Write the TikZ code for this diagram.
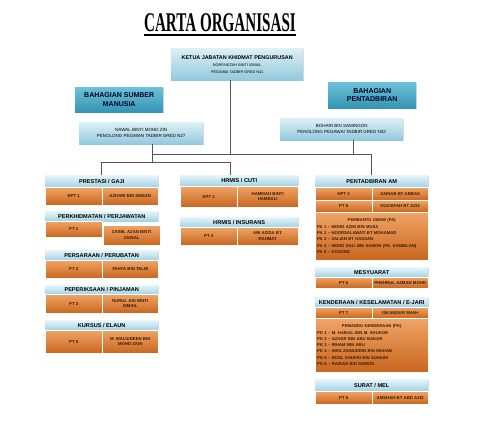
\documentclass[tikz,border=0pt]{standalone}
\usepackage{fontspec}
\setmainfont{Liberation Sans}
\newfontfamily\titlefont{Liberation Serif}[FakeStretch=0.56]
\usetikzlibrary{shadows}

\definecolor{topA}{HTML}{DDF0F6}
\definecolor{topB}{HTML}{92C9DC}
\definecolor{bahA}{HTML}{6CC2D8}
\definecolor{bahB}{HTML}{3494B3}
\definecolor{hdrA}{HTML}{E6F5FA}
\definecolor{hdrB}{HTML}{A2D3E4}
\definecolor{orgA}{HTML}{F0A466}
\definecolor{orgB}{HTML}{C9661F}
\definecolor{orgText}{HTML}{3B1C05}
\definecolor{linkGrey}{HTML}{555555}

\tikzset{
  shade/.style={drop shadow={shadow xshift=0.8pt,shadow yshift=-0.8pt,opacity=0.3}},
  base/.style={inner sep=0.5pt, anchor=north west, align=center, shade},
  topbox/.style={base, top color=topA, bottom color=topB,
    font=\fontsize{3.8}{7}\selectfont},
  bahbox/.style={base, top color=bahA, bottom color=bahB,
    font=\fontsize{7}{8.5}\selectfont\bfseries, text=black!85!blue},
  hdr/.style={base, top color=hdrA, bottom color=hdrB,
    font=\fontsize{5.6}{6.5}\selectfont\bfseries},
  cell/.style={base, top color=orgA, bottom color=orgB, draw=white,
    line width=0.4pt, text=orgText, font=\fontsize{4.3}{5.5}\selectfont\bfseries},
  listcell/.style={cell, align=left, text width=109pt,
    font=\fontsize{4.2}{6.3}\selectfont\bfseries},
  link/.style={draw=linkGrey, line width=0.6pt}
}

\begin{document}
\begin{tikzpicture}[x=1pt,y=-1pt]
  \useasboundingbox (0,0) rectangle (480,427);
  % title
  \node[inner sep=0pt, anchor=base, font=\titlefont\bfseries\fontsize{27}{27}\selectfont]
    (title) at (220,32) {CARTA ORGANISASI};
  \draw[line width=1.8pt] ([yshift=-2.8pt]title.base west) -- ([yshift=-2.8pt]title.base east);
  % head of department
  \node[topbox, minimum width=132pt, minimum height=32pt] (ketua) at (171,48)
    {{\fontsize{5.4}{7}\selectfont\bfseries KETUA JABATAN KHIDMAT PENGURUSAN}\\
     NORFAIEZAH BINTI ISMAIL\\ PEGAWAI TADBIR GRED N41};
  % the two divisions
  \node[bahbox, minimum width=88pt, minimum height=25pt] (bsm) at (75,87)
    {BAHAGIAN SUMBER\\MANUSIA};
  \node[bahbox, minimum width=88pt, minimum height=26pt] (bpt) at (328,82)
    {BAHAGIAN\\PENTADBIRAN};
  \node[topbox, minimum width=124pt, minimum height=22pt, font=\fontsize{4.5}{6.5}\selectfont]
    (nawal) at (79,122) {NAWAL BINTI MOHD ZIN\\PENOLONG PEGAWAI TADBIR GRED N27};
  \node[topbox, minimum width=123pt, minimum height=22pt, font=\fontsize{4.5}{6.5}\selectfont]
    (bohari) at (280,118) {BOHARI BIN SAMINGON\\PENOLONG PEGAWAI TADBIR GRED N32};

  % left column
  \node[hdr, minimum width=113pt, minimum height=12pt] (prestasi) at (45,175) {PRESTASI / GAJI};
  \node[cell, minimum width=57pt, minimum height=18pt] (prestasiL) at (45,187) {KPT 1};
  \node[cell, minimum width=56pt, minimum height=18pt] (prestasiR) at (102,187) {AZHARI BIN SEMAN};
  \node[hdr, minimum width=113pt, minimum height=10pt] (khidmat) at (45,211) {PERKHIDMATAN / PERJAWATAN};
  \node[cell, minimum width=57pt, minimum height=16pt] (khidmatL) at (45,221) {PT 1};
  \node[cell, minimum width=57pt, minimum height=20pt] (khidmatR) at (103,225) {ZAINIL AZAN BINTI\\ZAINAL};
  \node[hdr, minimum width=113pt, minimum height=10pt] (bersara) at (45,250) {PERSARAAN / PERUBATAN};
  \node[cell, minimum width=57pt, minimum height=18pt] (bersaraL) at (45,260) {PT 2};
  \node[cell, minimum width=56pt, minimum height=18pt] (bersaraR) at (102,260) {YAHYA BIN TALIB};
  \node[hdr, minimum width=113pt, minimum height=9pt] (periksa) at (45,285) {PEPERIKSAAN / PINJAMAN};
  \node[cell, minimum width=57pt, minimum height=19pt] (periksaL) at (45,294) {PT 3};
  \node[cell, minimum width=56pt, minimum height=19pt] (periksaR) at (102,294) {NURUL AIN BINTI\\ISMAIL};
  \node[hdr, minimum width=113pt, minimum height=10pt] (kursus) at (45,320) {KURSUS / ELAUN};
  \node[cell, minimum width=57pt, minimum height=23pt] (kursusL) at (45,330) {PT 5};
  \node[cell, minimum width=56pt, minimum height=23pt] (kursusR) at (102,330) {M. WALIUDEEN BIN\\MOHD ZAIN};

  % middle column
  \node[hdr, minimum width=118pt, minimum height=11pt] (cuti) at (180,175) {HRMIS / CUTI};
  \node[cell, minimum width=57pt, minimum height=21pt] (cutiL) at (180,186) {KPT 2};
  \node[cell, minimum width=61pt, minimum height=21pt] (cutiR) at (237,186) {HAMMAH BINTI\\HAMBALI};
  \node[hdr, minimum width=118pt, minimum height=10pt] (insurans) at (180,217) {HRMIS / INSURANS};
  \node[cell, minimum width=57pt, minimum height=18pt] (insuransL) at (180,227) {PT 4};
  \node[cell, minimum width=61pt, minimum height=18pt] (insuransR) at (237,227) {ANI AZIDA BT.\\RAHMAT};

  % right column
  \node[hdr, minimum width=113pt, minimum height=12pt] (tadbir) at (315,175) {PENTADBIRAN AM};
  \node[cell, minimum width=57pt, minimum height=13pt] (tadbirL) at (315,187) {KPT 3};
  \node[cell, minimum width=56pt, minimum height=13pt] (tadbirR) at (372,187) {ZAINAB BT ABBAS};
  \node[cell, minimum width=57pt, minimum height=12pt] (tadbirL2) at (315,200) {PT 8};
  \node[cell, minimum width=56pt, minimum height=12pt] (tadbirR2) at (372,200) {HUZAIFAH BT AZIZ};
  \node[listcell, minimum width=113pt, minimum height=48pt] (pa) at (315,212)
    {\makebox[\linewidth]{PEMBANTU AWAM (PA)}\\
     PA 1 -- MOHD AZMI BIN MUSA\\
     PA 2 -- NOORSALAWATI BT MOHAMAD\\
     PA 3 -- ZALIAN BT HASSAN\\
     PA 4 -- MOHD DALI BIN SAWON (PK. SAMBILAN)\\
     PA 5 -- KOSONG};
  \node[hdr, minimum width=113pt, minimum height=10pt] (mesyuarat) at (315,267) {MESYUARAT};
  \node[cell, minimum width=57pt, minimum height=11pt] (mesyuaratL) at (315,277) {PT 6};
  \node[cell, minimum width=56pt, minimum height=11pt] (mesyuaratR) at (372,277) {PHEHRUL AZMAN MOHD};
  \node[hdr, minimum width=113pt, minimum height=10pt] (kenderaan) at (315,297) {KENDERAAN / KESELAMATAN / E-JARI};
  \node[cell, minimum width=57pt, minimum height=11pt] (kenderaanL) at (315,307) {PT 7};
  \node[cell, minimum width=56pt, minimum height=11pt] (kenderaanR) at (372,307) {ISKANDAR SHAH};
  \node[listcell, minimum width=113pt, minimum height=54pt] (pk) at (315,318)
    {\makebox[\linewidth]{PEMANDU KENDERAAN (PK)}\\
     PK 1 -- M. HAIKAL BIN M. SHUKOR\\
     PK 2 -- AZHAR BIN ABU BAKAR\\
     PK 3 -- IRHAM BIN ABU\\
     PK 4 -- WAN ZAINUDDIN BIN WAHAB\\
     PK 5 -- ROSL SHUKRI BIN SUHAIDI\\
     PK 6 -- RAIDAN BIN DAWOD};
  \node[hdr, minimum width=113pt, minimum height=12pt] (surat) at (315,379) {SURAT / MEL};
  \node[cell, minimum width=57pt, minimum height=13pt] (suratL) at (315,391) {PT 8};
  \node[cell, minimum width=56pt, minimum height=13pt] (suratR) at (372,391) {AMSHAH BT ABD AZIZ};

  % connectors
  \coordinate (jTop) at (230,154);
  \coordinate (jLeft) at (152,162);
  \coordinate (jMid) at (230,162);
  \coordinate (jRight) at (353,154);
  \draw[link] (ketua.south -| jTop) -- (jTop);
  \draw[link] (bohari.south -| jRight) -- (jRight);
  \draw[link] (nawal.south -| jLeft) -- (jLeft);
  \draw[link] (jLeft |- jTop) -- (tadbir.north |- jTop) -- (tadbir.north);
  \draw[link] (prestasi.north) |- (jMid) -- (jMid |- cuti.north);
\end{tikzpicture}
\end{document}
